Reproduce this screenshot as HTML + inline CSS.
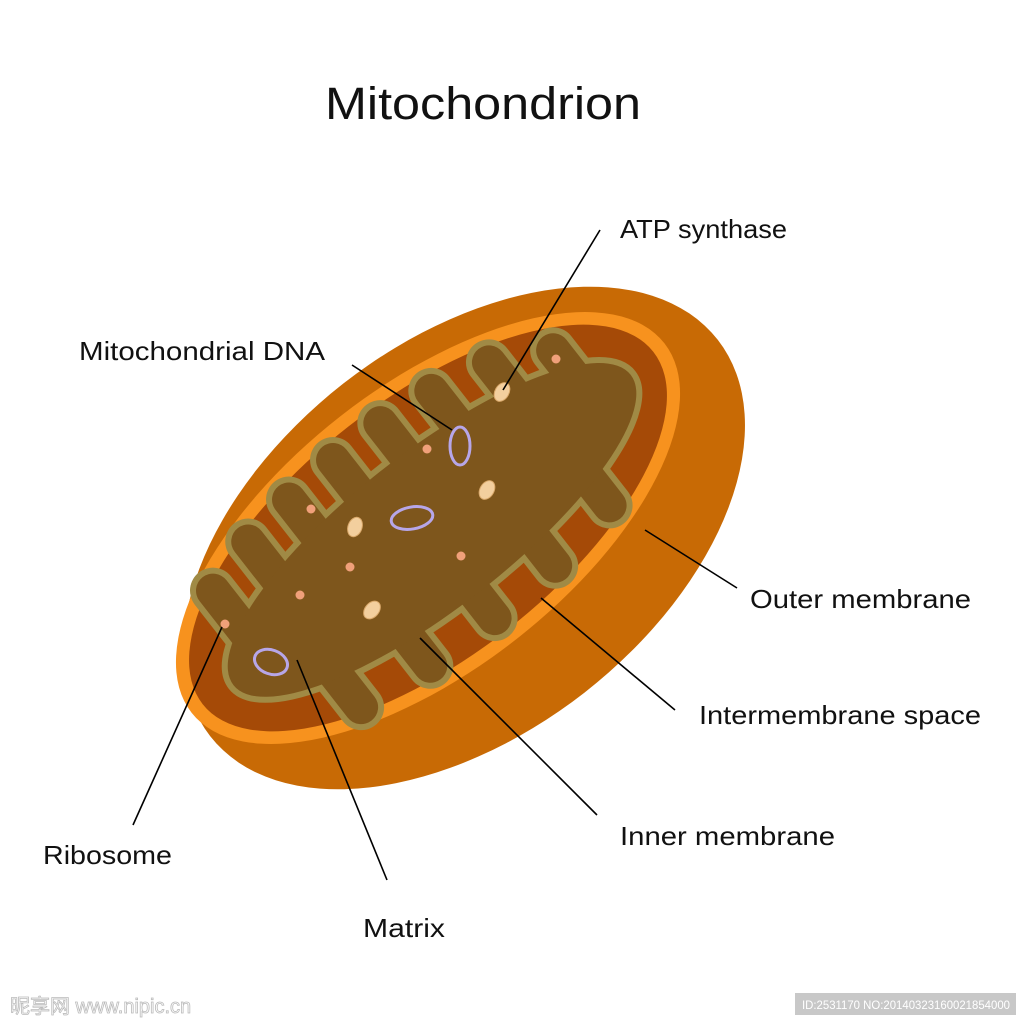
<!DOCTYPE html>
<html><head><meta charset="utf-8"><style>
html,body{margin:0;padding:0;background:#fff;}
svg{display:block;}
text{font-family:"Liberation Sans","DejaVu Sans",sans-serif;fill:#111;}
</style></head><body>
<svg width="1024" height="1024" viewBox="0 0 1024 1024" xmlns="http://www.w3.org/2000/svg">
<rect width="1024" height="1024" fill="#fff"/>
<text x="325" y="119" font-size="45" textLength="316" lengthAdjust="spacingAndGlyphs">Mitochondrion</text>

<!-- outer shell -->
<g transform="rotate(-38 464 538)">
  <ellipse cx="464" cy="538" rx="322" ry="196" fill="#c86a05"/>
</g>
<g transform="rotate(-38 428 528)">
  <ellipse cx="428" cy="528" rx="300" ry="142" fill="#f7921e"/>
  <ellipse cx="428" cy="528" rx="286" ry="129" fill="#a54a07"/>
  <g stroke-linecap="round">
    <ellipse cx="430" cy="532" rx="252" ry="78" fill="#a08a45" stroke="#a08a45" stroke-width="12"/>
    <g stroke="#a08a45" stroke-width="46">
      <path d="M220,520 L220,445 M278,520 L278,428 M336,520 L336,420 M395,520 L395,416 M455,520 L455,416 M515,520 L515,422 M578,520 L578,435 M636,525 L636,465"/>
      <path d="M265,545 L265,628 M345,545 L345,638 M425,545 L425,640 M505,545 L505,636 M585,545 L585,622"/>
    </g>
    <g stroke="#7e561c" stroke-width="34">
      <path d="M220,520 L220,445 M278,520 L278,428 M336,520 L336,420 M395,520 L395,416 M455,520 L455,416 M515,520 L515,422 M578,520 L578,435 M636,525 L636,465"/>
      <path d="M265,545 L265,628 M345,545 L345,638 M425,545 L425,640 M505,545 L505,636 M585,545 L585,622"/>
    </g>
    <ellipse cx="430" cy="532" rx="252" ry="78" fill="#7e561c"/>
  </g>
</g>
<!-- ATP synthase -->
<g fill="#f3cf9e" stroke="#d9a86a" stroke-width="1">
  <ellipse cx="502" cy="392" rx="7" ry="10" transform="rotate(30 502 392)"/>
  <ellipse cx="487" cy="490" rx="7" ry="10" transform="rotate(30 487 490)"/>
  <ellipse cx="355" cy="527" rx="7" ry="10" transform="rotate(20 355 527)"/>
  <ellipse cx="372" cy="610" rx="7" ry="10" transform="rotate(40 372 610)"/>
</g>
<!-- ribosomes -->
<g fill="#f0a07a">
  <circle cx="556" cy="359" r="4.5"/><circle cx="427" cy="449" r="4.5"/>
  <circle cx="311" cy="509" r="4.5"/><circle cx="350" cy="567" r="4.5"/>
  <circle cx="461" cy="556" r="4.5"/><circle cx="300" cy="595" r="4.5"/>
  <circle cx="225" cy="624" r="4.5"/>
</g>
<!-- DNA -->
<g fill="none" stroke="#b7a6e8" stroke-width="3">
  <ellipse cx="460" cy="446" rx="10" ry="19"/>
  <ellipse cx="412" cy="518" rx="21" ry="11" transform="rotate(-10 412 518)"/>
  <ellipse cx="271" cy="662" rx="17" ry="12" transform="rotate(20 271 662)"/>
</g>

<!-- leader lines -->
<g stroke="#000" stroke-width="1.6">
  <line x1="600" y1="230" x2="503" y2="390"/>
  <line x1="352" y1="365" x2="452" y2="430"/>
  <line x1="645" y1="530" x2="737" y2="588"/>
  <line x1="541" y1="598" x2="675" y2="710"/>
  <line x1="420" y1="638" x2="597" y2="815"/>
  <line x1="297" y1="660" x2="387" y2="880"/>
  <line x1="222" y1="627" x2="133" y2="825"/>
</g>
<g font-size="26">
<text x="620" y="238" textLength="167" lengthAdjust="spacingAndGlyphs">ATP synthase</text>
<text x="79" y="360" textLength="246" lengthAdjust="spacingAndGlyphs">Mitochondrial DNA</text>
<text x="750" y="608" textLength="221" lengthAdjust="spacingAndGlyphs">Outer membrane</text>
<text x="699" y="724" textLength="282" lengthAdjust="spacingAndGlyphs">Intermembrane space</text>
<text x="620" y="845" textLength="215" lengthAdjust="spacingAndGlyphs">Inner membrane</text>
<text x="43" y="864" textLength="129" lengthAdjust="spacingAndGlyphs">Ribosome</text>
<text x="363" y="937" textLength="82" lengthAdjust="spacingAndGlyphs">Matrix</text>
</g>
<!-- watermark -->
<text x="10" y="1013" font-size="20" style="fill:none;stroke:#bbb;stroke-width:0.8;font-family:'Liberation Sans','Noto Sans CJK SC',sans-serif">昵享网 www.nipic.cn</text>
<rect x="795" y="993" width="221" height="22" fill="#c8c8c8"/>
<text x="802" y="1009" font-size="12" style="fill:#fff" textLength="208" lengthAdjust="spacingAndGlyphs">ID:2531170 NO:20140323160021854000</text>
</svg>
</body></html>
